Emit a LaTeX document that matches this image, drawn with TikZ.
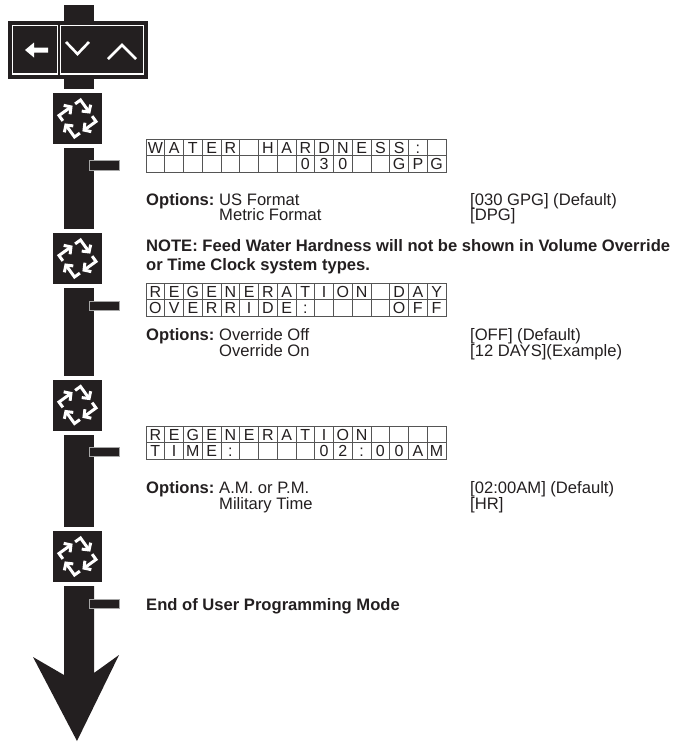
\documentclass[tikz,border=0pt]{standalone}
\usepackage{fontspec}
\setmainfont{Liberation Sans}
\usetikzlibrary{arrows.meta}
\definecolor{ink}{RGB}{35,31,32}
\definecolor{gridc}{RGB}{85,85,85}
\tikzset{
  barseg/.style={fill=ink, draw=none},
  tabbox/.style={fill=ink, draw=black!35, line width=0.8pt},
  lcdline/.style={draw=gridc, line width=0.75pt},
  lcdch/.style={font=\fontsize{16}{16}\selectfont, text=ink, inner sep=0pt, anchor=base},
  body/.style={font=\fontsize{16.6}{18}\selectfont, text=ink, inner sep=0pt, anchor=base west},
  bodyb/.style={font=\fontsize{16.6}{18}\selectfont\bfseries, text=ink, inner sep=0pt, anchor=base west},
  glyph/.style={draw=white, line width=2.6pt, line join=miter},
  cyc/.style={draw=white, line width=3pt, line join=miter, -{Straight Barb[length=5pt,width=11pt,line join=miter]}},
  cycicon/.pic={
    \fill[ink] (-24.5,-25.5) rectangle (24.5,25.5);
    \draw[cyc] (-2.375,-14.625) -- (3,-18.5) -- (12.8,-4.9);
    \draw[cyc] (14.625,-2.375) -- (18.5,3) -- (4.9,12.8);
    \draw[cyc] (2.375,14.625) -- (-3,18.5) -- (-12.8,4.9);
    \draw[cyc] (-14.625,2.375) -- (-18.5,-3) -- (-4.9,-12.8);
  }
}
\newcommand\lcdrow[4]{%
  \foreach \c [count=\i from 0] in {#4} {\node[lcdch] (#1-\i) at ({#2+\i*18.75+9.375},{#3+14}) {\c};}}
\newcommand\lcdframe[2]{%
  \draw[lcdline] (#1,#2) rectangle ({#1+300},{#2+33});
  \draw[lcdline] (#1,{#2+16.5}) -- ({#1+300},{#2+16.5});
  \foreach \k in {1,...,15} {\draw[lcdline] ({#1+\k*18.75},#2) -- ({#1+\k*18.75},{#2+33});}}
\begin{document}
\begin{tikzpicture}[x=1pt,y=-1pt]
\useasboundingbox (0,0) rectangle (687,742);
% main bar segments
\fill[barseg] (64,5) rectangle (94,25);
\fill[barseg] (64,78) rectangle (94,89);
\fill[barseg] (64,148) rectangle (94,229);
\fill[barseg] (64,288) rectangle (94,376);
\fill[barseg] (64,435) rectangle (94,527);
\fill[barseg] (64,586) -- (94,586) -- (94,673) -- (119,655) -- (77,741) -- (33,657) -- (64,675) -- cycle;
% button panel
\fill[ink] (8,21) rectangle (148,79);
\draw[white, line width=1.2pt] (12.5,25.5) rectangle (57.5,74);
\draw[white, line width=1.2pt] (60.5,25.5) rectangle (143.5,74);
\fill[white] (25,50) -- (34,42.5) -- (34,47.5) -- (48,47.5) -- (48,52.5) -- (34,52.5) -- (34,57.5) -- cycle;
\draw[glyph] (66,42) -- (77.5,54) -- (89,42);
\draw[glyph] (108,59) -- (122,45) -- (136,59);
% cycle icons
\pic at (77.5,118.5) {cycicon};
\pic at (77.5,258.5) {cycicon};
\pic at (77.5,405) {cycicon};
\pic at (77.5,556.5) {cycicon};
% tabs
\draw[tabbox] (89,160) rectangle (119,170);
\draw[tabbox] (89,301.5) rectangle (119,310.5);
\draw[tabbox] (89,447) rectangle (119,456);
\draw[tabbox] (89,599) rectangle (119,608);
% LCD 1
\lcdframe{146}{139}
\lcdrow{la}{146}{139}{W,A,T,E,R,{},H,A,R,D,N,E,S,S,:,{}}
\lcdrow{lb}{146}{155.5}{{},{},{},{},{},{},{},{},0,3,0,{},{},G,P,G}
\node[bodyb] (o1) at (146,205) {Options:};
\node[body] (o1a) at (219,205) {US Format};
\node[body] (o1b) at (470,205) {[030 GPG] (Default)};
\node[body] (o1c) at (219,220) {Metric Format};
\node[body] (o1d) at (470,220) {[DPG]};
\node[bodyb] (n1) at (146,251) {NOTE: Feed Water Hardness will not be shown in Volume Override};
\node[bodyb] (n2) at (146,270) {or Time Clock system types.};
% LCD 2
\lcdframe{146}{283}
\lcdrow{lc}{146}{283}{R,E,G,E,N,E,R,A,T,I,O,N,{},D,A,Y}
\lcdrow{ld}{146}{299.5}{O,V,E,R,R,I,D,E,:,{},{},{},{},O,F,F}
\node[bodyb] (o2) at (146,340) {Options:};
\node[body] (o2a) at (219,340) {Override Off};
\node[body] (o2b) at (470,340) {[OFF] (Default)};
\node[body] (o2c) at (219,356) {Override On};
\node[body] (o2d) at (470,356) {[12 DAYS](Example)};
% LCD 3
\lcdframe{146}{426}
\lcdrow{le}{146}{426}{R,E,G,E,N,E,R,A,T,I,O,N,{},{},{},{}}
\lcdrow{lf}{146}{442.5}{T,I,M,E,:,{},{},{},{},0,2,:,0,0,A,M}
\node[bodyb] (o3) at (146,493) {Options:};
\node[body] (o3a) at (219,493) {A.M. or P.M.};
\node[body] (o3b) at (470,493) {[02:00AM] (Default)};
\node[body] (o3c) at (219,509) {Military Time};
\node[body] (o3d) at (470,509) {[HR]};
\node[bodyb] (e1) at (146,610) {End of User Programming Mode};
\end{tikzpicture}
\end{document}
